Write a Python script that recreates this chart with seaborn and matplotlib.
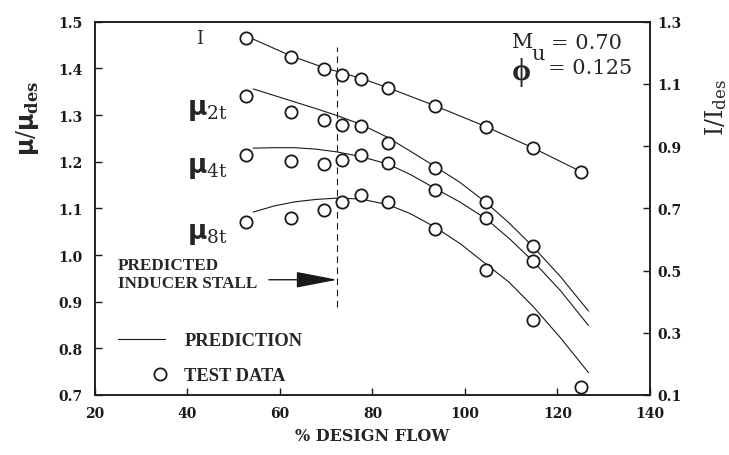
import numpy as np
import pandas as pd
import seaborn as sns
import matplotlib.pyplot as plt
from matplotlib.lines import Line2D
from matplotlib.legend_handler import HandlerLine2D

# test data, % design flow
flow = [52.6, 62.4, 69.6, 73.5, 77.5, 83.3, 93.5, 104.5, 114.6, 125.1]
i_test = [1.248, 1.186, 1.149, 1.129, 1.116, 1.086, 1.029, 0.961, 0.894, 0.816]
mu2t_test = [1.340, 1.307, 1.290, 1.279, 1.277, 1.240, 1.186, 1.113, 1.019]
mu4t_test = [1.215, 1.201, 1.194, 1.204, 1.214, 1.197, 1.139, 1.079, 0.987]
mu8t_test = [1.071, 1.079, 1.096, 1.113, 1.129, 1.114, 1.056, 0.968, 0.861, 0.718]

# prediction curves
flow_pred = [54.2, 58.7, 63.2, 67.7, 72.3, 77.5, 83.3, 88.1, 93.5, 99.0,
             104.5, 109.5, 114.7, 120.7, 126.7]
mu2t_pred = [1.356, 1.342, 1.328, 1.314, 1.299, 1.280, 1.252, 1.223, 1.190, 1.155,
             1.113, 1.069, 1.018, 0.953, 0.880]
mu4t_pred = [1.229, 1.230, 1.230, 1.227, 1.221, 1.211, 1.195, 1.173, 1.143, 1.113,
             1.078, 1.036, 0.987, 0.923, 0.849]
mu8t_pred = [1.092, 1.105, 1.114, 1.119, 1.122, 1.120, 1.108, 1.089, 1.060, 1.024,
             0.981, 0.942, 0.890, 0.822, 0.748]
flow_i_pred = [54.2, 62.4, 69.6, 77.5, 83.3, 93.5, 104.5, 114.6, 125.1]
i_pred = [1.244, 1.190, 1.152, 1.118, 1.088, 1.030, 0.963, 0.895, 0.818]

stall_flow = 72.4
stall_span = [0.889, 1.446]

x_ticks = [20, 40, 60, 80, 100, 120, 140]
mu_ticks = [0.7, 0.8, 0.9, 1.0, 1.1, 1.2, 1.3, 1.4, 1.5]
i_ticks = [0.1, 0.3, 0.5, 0.7, 0.9, 1.1, 1.3]

sns.set_theme(style="white")
plt.rcParams['font.family'] = ['DejaVu Serif']
plt.rcParams['mathtext.fontset'] = 'custom'
plt.rcParams['mathtext.it'] = 'DejaVu Sans:bold'
plt.rcParams['mathtext.rm'] = 'DejaVu Serif'
plt.rcParams['mathtext.bf'] = 'DejaVu Serif:bold'

mu_test_df = pd.concat([
    pd.DataFrame({'flow': flow[:len(v)], 'value': v, 'series': s})
    for s, v in [('2t', mu2t_test), ('4t', mu4t_test), ('8t', mu8t_test)]
])
mu_pred_df = pd.concat([
    pd.DataFrame({'flow': flow_pred, 'value': v, 'series': s})
    for s, v in [('2t', mu2t_pred), ('4t', mu4t_pred), ('8t', mu8t_pred)]
])
i_test_df = pd.DataFrame({'flow': flow, 'value': i_test})
i_pred_df = pd.DataFrame({'flow': flow_i_pred, 'value': i_pred})

fig = plt.figure(figsize=(7.29, 4.56), dpi=100)
ax = fig.add_axes([0.1303, 0.1316, 0.7613, 0.8186])
ax2 = ax.twinx()

lw = 0.8
sns.lineplot(data=mu_pred_df, x='flow', y='value', units='series', estimator=None,
             sort=False, color='k', lw=lw, ax=ax, zorder=2)
sns.scatterplot(data=mu_test_df, x='flow', y='value', ax=ax, s=78, marker='o',
                facecolor='white', edgecolor='k', linewidth=1.3, zorder=3)
sns.lineplot(data=i_pred_df, x='flow', y='value', sort=False, color='k', lw=lw,
             ax=ax2, zorder=2)
sns.scatterplot(data=i_test_df, x='flow', y='value', ax=ax2, s=78, marker='o',
                facecolor='white', edgecolor='k', linewidth=1.3, zorder=3)

ax.vlines(stall_flow, *stall_span, colors='k', lw=lw, linestyles=(0, (6, 4)), zorder=1)
ax.annotate('', xy=(stall_flow, 0.947), xytext=(57.6, 0.947),
            arrowprops=dict(arrowstyle='-|>,head_length=2.6,head_width=0.5',
                            color='k', lw=1, shrinkA=0, shrinkB=0, mutation_scale=10))

ax.set_xlim(20, 140)
ax.set_ylim(0.7, 1.5)
ax2.set_ylim(0.1, 1.3)
ax.set_xticks(x_ticks)
ax.set_yticks(mu_ticks)
ax2.set_yticks(i_ticks)
ax.set_xticklabels([str(t) for t in x_ticks])
ax.set_yticklabels([f"{t:.1f}" for t in mu_ticks])
ax2.set_yticklabels([f"{t:.1f}" for t in i_ticks])
ax.set_xlabel('')
ax.set_ylabel('')
ax2.set_ylabel('')

for a in (ax, ax2):
    for sp in a.spines.values():
        sp.set_color('k')
        sp.set_linewidth(1.1)
ax.tick_params(axis='both', direction='in', length=5, width=1, colors='k',
               labelsize=10, left=True, bottom=True)
ax.tick_params(axis='y', pad=9)
ax.tick_params(axis='x', pad=8)
ax2.tick_params(axis='y', direction='in', length=5, width=1, colors='k',
                labelsize=10, right=True, pad=5)
for lbl in ax.get_xticklabels() + ax.get_yticklabels() + ax2.get_yticklabels():
    lbl.set_fontweight('bold')

# curve labels
ax.text(42.5, 1.465, 'I', fontsize=13, ha='center', va='center')
for y, sub in [(1.312, '2t'), (1.187, '4t'), (1.047, '8t')]:
    ax.text(40.0, y, r'$\mu_{\rm %s}$' % sub, fontsize=19, ha='left', va='center')

# operating point
ax.text(110.2, 1.458, 'M', fontsize=15, ha='left', va='center')
ax.text(114.4, 1.432, 'u', fontsize=15, ha='left', va='center')
ax.text(118.7, 1.456, '= 0.70', fontsize=15, ha='left', va='center')
ax.text(112.1, 1.394, '\u03d5', fontsize=22, ha='center', va='center',
        family=['Liberation Serif', 'DejaVu Sans'], fontweight='bold')
ax.text(117.9, 1.401, '= 0.125', fontsize=15, ha='left', va='center')

ax.text(25.0, 0.979, 'PREDICTED', fontsize=12.3, ha='left', va='center',
        family='Liberation Serif', fontweight='bold')
ax.text(25.0, 0.941, 'INDUCER STALL', fontsize=12.3, ha='left', va='center',
        family='Liberation Serif', fontweight='bold')


class RightMarker(HandlerLine2D):
    # put the single legend marker near the right end of the key
    def create_artists(self, legend, orig_handle, xdescent, ydescent, width, height,
                       fontsize, trans):
        arts = super().create_artists(legend, orig_handle, xdescent, ydescent, width,
                                      height, fontsize, trans)
        for a in arts:
            x = np.asarray(a.get_xdata(), dtype=float)
            if len(x) == 3:
                a.set_xdata([x[0], x[0] + 0.89 * (x[-1] - x[0]), x[-1]])
        return arts


h_line = Line2D([], [], color='k', lw=lw)
h_mark = Line2D([], [], ls='none', marker='o', mfc='white', mec='k', ms=8.8, mew=1.3)
ax.legend([h_line, h_mark], ['PREDICTION', 'TEST DATA'], loc='upper left',
          bbox_to_anchor=(0.0414, 0.168), frameon=False, borderpad=0, borderaxespad=0,
          handlelength=2.55, handletextpad=1.05, labelspacing=0.97,
          handler_map={h_mark: RightMarker(numpoints=1)},
          prop={'family': 'Liberation Serif', 'weight': 'bold', 'size': 13.3})

fig.text(0.511, 0.042, '% DESIGN FLOW', fontsize=11.5, fontweight='bold',
         ha='center', va='center')
fig.text(0.038, 0.741, r'$\mu/\mu_{\mathbf{des}}$', fontsize=17, rotation=90,
         ha='center', va='center')
fig.text(0.982, 0.765, r'$\rm I/I_{des}$', fontsize=17, rotation=90,
         ha='center', va='center')

fig.savefig('out.png', dpi=100)
